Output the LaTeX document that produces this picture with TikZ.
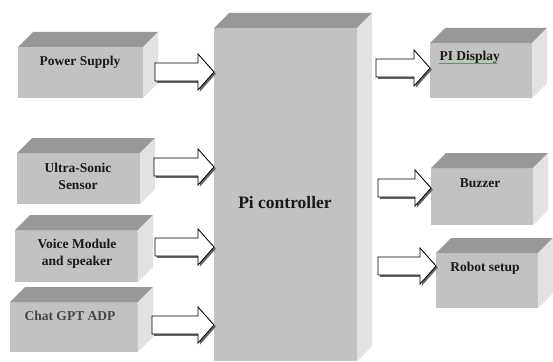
\documentclass[tikz,border=0pt]{standalone}
\usepackage{fontspec}
\setmainfont{Liberation Serif}
\usetikzlibrary{calc}

\definecolor{frontgray}{RGB}{194,194,194}
\definecolor{topgray}{RGB}{152,152,152}
\definecolor{sidegray}{RGB}{226,226,226}
\definecolor{txtgray}{RGB}{70,70,70}
\definecolor{spellgreen}{RGB}{96,150,96}

\tikzset{
  block/.style={fill=frontgray, inner sep=0pt, outer sep=0pt},
  lbl/.style={font=\bfseries\fontsize{13.5}{17}\selectfont, align=center, text=black!90},
  arrowbody/.style={draw=black, fill=white, line width=0.8pt, line join=miter,
    preaction={fill=black!60, transform canvas={shift={(1.8pt,-1.8pt)}}}},
}

% top and right faces of a block
\newcommand{\cube}[1]{%
  \fill[topgray] (#1.north west) -- ++(15pt,15pt) -- ($(#1.north east)+(15pt,15pt)$) -- (#1.north east) -- cycle;
  \fill[sidegray] (#1.north east) -- ++(15pt,15pt) -- ($(#1.south east)+(15pt,15pt)$) -- (#1.south east) -- cycle;
}

% hollow arrow from a coordinate to the west side of a block
\newcommand{\blockarrow}[2]{%
  \draw[arrowbody] let \p1=(#1), \p2=(#1 -| #2.west) in
    (\x1,\y1+9pt) -- (\x2-16pt,\y1+9pt) -- (\x2-16pt,\y1+18pt) -- (\x2,\y1)
    -- (\x2-16pt,\y1-18pt) -- (\x2-16pt,\y1-9pt) -- (\x1,\y1-9pt) -- cycle;
}

\begin{document}
\begin{tikzpicture}[x=1pt, y=-1pt]
\useasboundingbox (0,0) rectangle (553,361);

% inputs
\node[block, minimum width=125pt, minimum height=51pt] (ps) at (80.5,72.5) {};
\node[block, minimum width=123pt, minimum height=51pt] (us) at (78.5,178.5) {};
\node[block, minimum width=123pt, minimum height=52pt] (vm) at (76.5,256) {};
\node[block, minimum width=128pt, minimum height=50pt] (cg) at (74,327) {};
\cube{ps}
\cube{us}
\cube{vm}
\cube{cg}
\node[lbl] (psl) at (80,62) {Power Supply};
\node[lbl] (usl) at (78,176) {Ultra-Sonic\\Sensor};
\node[lbl] (vml) at (77,254) {Voice Module\\and speaker};
\node[lbl, text=txtgray] (cgl) at (70,316) {Chat GPT ADP};

% controller
\node[block, minimum width=143pt, minimum height=333pt] (pi) at (285.5,194.5) {};
\cube{pi}
\node[lbl, font=\bfseries\fontsize{17.5}{20}\selectfont] (pil) at (285,203) {Pi controller};

% outputs
\node[block, minimum width=102pt, minimum height=55pt] (pd) at (481,70.5) {};
\node[block, minimum width=102pt, minimum height=57pt] (bz) at (482,196.5) {};
\node[block, minimum width=102pt, minimum height=55pt] (rs) at (487,280.5) {};
\cube{pd}
\cube{bz}
\cube{rs}
\node[lbl, anchor=west] (pdl) at (436,57) {PI Display};
\draw[spellgreen, line width=0.4pt] ($(pdl.base west)+(3pt,-2.5pt)$) -- ($(pdl.base east)+(-6pt,-2.5pt)$);
\node[lbl] (bzl) at (480,183) {Buzzer};
\node[lbl] (rsl) at (485,268) {Robot setup};

% arrows
\coordinate (a1) at (155,72);
\coordinate (a2) at (154,167);
\coordinate (a3) at (155,247);
\coordinate (a4) at (152,325);
\coordinate (b1) at (376,68);
\coordinate (b2) at (378,188);
\coordinate (b3) at (378,266);
\blockarrow{a1}{pi}
\blockarrow{a2}{pi}
\blockarrow{a3}{pi}
\blockarrow{a4}{pi}
\blockarrow{b1}{pd}
\blockarrow{b2}{bz}
\blockarrow{b3}{rs}
\end{tikzpicture}
\end{document}
